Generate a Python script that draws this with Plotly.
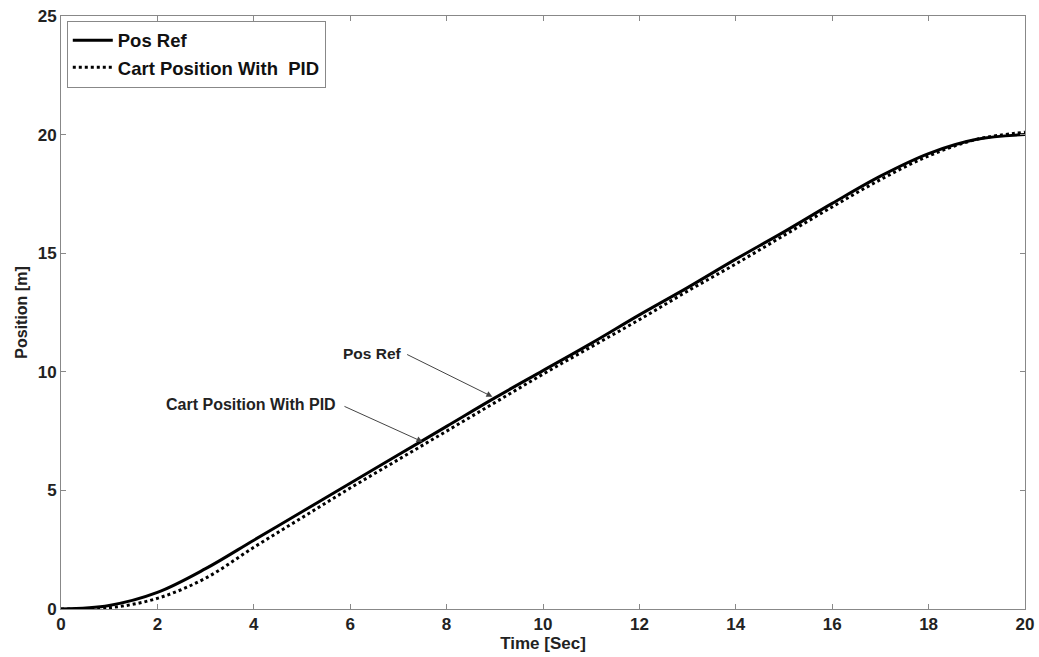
import plotly.graph_objects as go

time_s = [0, 1, 2, 3, 4, 5, 6, 7, 8, 9, 10, 11, 12, 13, 14, 15, 16, 17, 18, 19, 20]
pos_ref = [0, 0.15, 0.7, 1.7, 2.9, 4.1, 5.3, 6.5, 7.7, 8.9, 10.05, 11.2, 12.4,
           13.55, 14.75, 15.9, 17.1, 18.25, 19.2, 19.8, 20.0]
cart_pid = [0, 0.05, 0.45, 1.3, 2.6, 3.85, 5.1, 6.3, 7.5, 8.7, 9.9, 11.05, 12.2,
            13.4, 14.55, 15.75, 16.95, 18.1, 19.1, 19.8, 20.1]

x_ticks = [0, 2, 4, 6, 8, 10, 12, 14, 16, 18, 20]
y_ticks = [0, 5, 10, 15, 20, 25]

FONT = "Liberation Sans"

fig = go.Figure()
fig.add_trace(go.Scatter(x=time_s, y=pos_ref, mode="lines", name="<b>Pos Ref</b>",
                         line=dict(color="black", width=3, shape="spline")))
fig.add_trace(go.Scatter(x=time_s, y=cart_pid, mode="lines", name="<b>Cart Position With  PID</b>",
                         line=dict(color="black", width=3, dash="dot", shape="spline")))

# annotations: labels + arrows
fig.add_annotation(x=6.47, y=10.76, text="<b>Pos Ref</b>", showarrow=False,
                   font=dict(family=FONT, size=15.5, color="#222"))
fig.add_annotation(x=3.95, y=8.61, text="<b>Cart Position With PID</b>", showarrow=False,
                   font=dict(family=FONT, size=16, color="#222"))
fig.add_annotation(x=8.95, y=8.95, ax=7.15, ay=10.76, axref="x", ayref="y", text="",
                   showarrow=True, arrowhead=2, arrowsize=1.2, arrowwidth=1, arrowcolor="#444")
fig.add_annotation(x=7.5, y=7.05, ax=5.85, ay=8.57, axref="x", ayref="y", text="",
                   showarrow=True, arrowhead=2, arrowsize=1.2, arrowwidth=1, arrowcolor="#444")

axis_common = dict(showgrid=False, zeroline=False, showline=True, linecolor="#888",
                   linewidth=1, mirror="ticks", ticks="inside", ticklen=5, tickcolor="#888",
                   ticklabeloverflow="allow", automargin=False,
                   tickfont=dict(family=FONT, size=17, color="#222"))

fig.update_layout(
    width=1039, height=657,
    margin=dict(l=61, r=14, t=16, b=48),
    paper_bgcolor="white", plot_bgcolor="white",
    font=dict(family=FONT, color="#222"),
    showlegend=True,
    legend=dict(x=0.006, y=0.992, xanchor="left", yanchor="top",
                bgcolor="white", bordercolor="#888", borderwidth=1,
                font=dict(family=FONT, size=18.5, color="#111"),
                tracegroupgap=0, itemwidth=40),
    xaxis=dict(range=[0, 20], tickvals=x_ticks, ticktext=[f"<b>{v}</b>" for v in x_ticks],
               title=dict(text="<b>Time [Sec]</b>", font=dict(family=FONT, size=17), standoff=0),
               **axis_common),
    yaxis=dict(range=[0, 25], tickvals=y_ticks, ticktext=[f"<b>{v}</b>" for v in y_ticks],
               title=dict(text="<b>Position [m]</b>", font=dict(family=FONT, size=16), standoff=6),
               **axis_common),
)

fig.write_html("out.html", config={"displayModeBar": False},
               post_script="document.body.style.margin='0';document.body.style.overflow='hidden';")
